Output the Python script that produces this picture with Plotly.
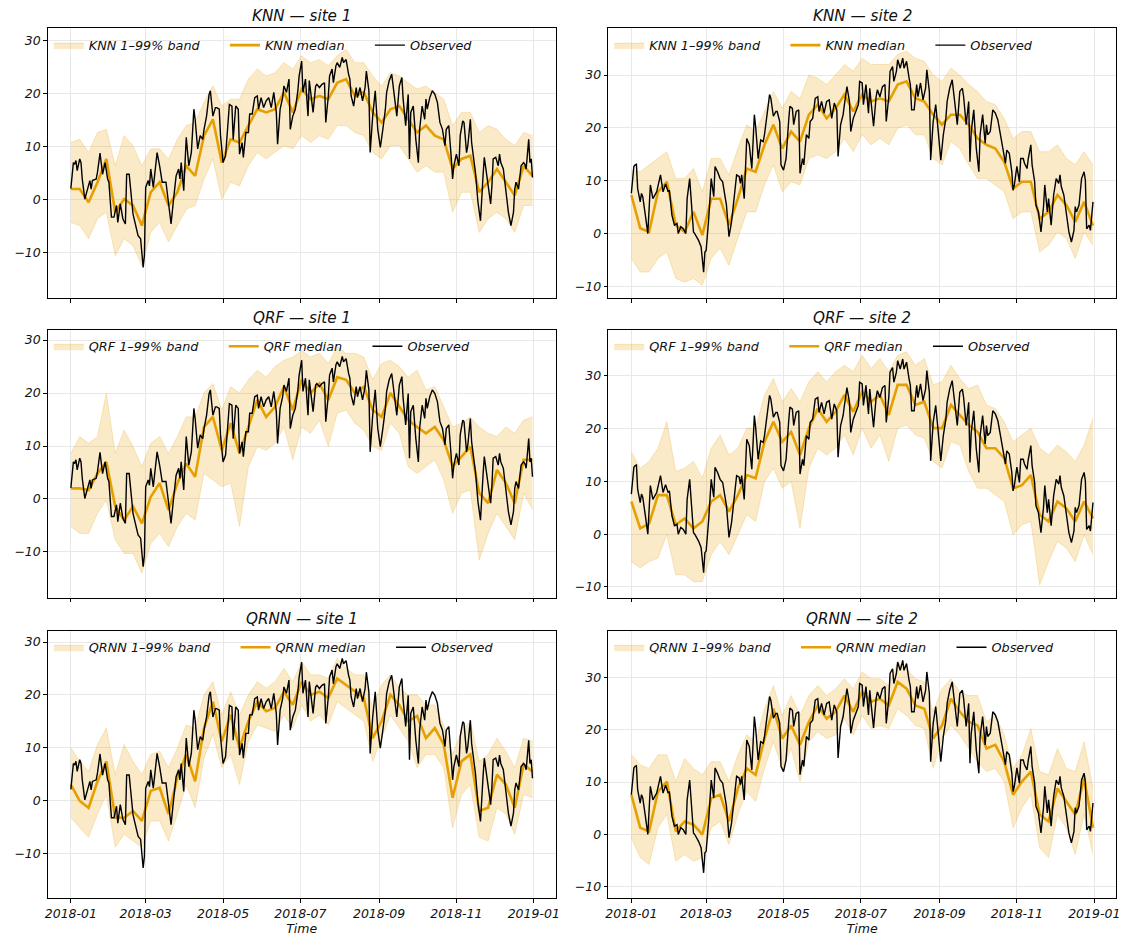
import pandas as pd
import plotly.graph_objects as go

# ---------------- data ----------------
BASE = pd.Timestamp("2018-01-01")

# day offsets (from 2018-01-01) of the observed points
obs_day = [0, 2, 3, 4, 5, 7, 8, 9, 11, 13, 15, 16, 17, 20, 21, 23, 25, 27, 29, 30,
           32, 34, 36, 37, 39, 41, 43, 44, 46, 49, 50, 53, 55, 57, 58, 59, 61, 62, 63, 65,
           66, 68, 70, 72, 75, 77, 79, 81, 83, 85, 86, 87, 89, 91, 93, 95, 97, 98, 100, 102,
           104, 105, 107, 109, 110, 112, 114,
           115, 117, 118, 120, 122, 124, 125, 127, 128, 130, 132, 133, 135, 136, 138, 140, 141, 143, 145, 147,
           148, 150, 152, 154, 156, 158, 160, 162, 163, 165, 167, 168, 170, 172, 173, 175, 177, 179, 180, 182,
           183, 185, 187, 188, 189, 191, 193, 194, 196, 198, 200, 201, 203, 204, 206, 207, 209, 210, 212, 214,
           215, 217, 219, 220, 221, 223, 225, 226, 228, 230, 232, 233, 235, 236, 238, 240, 242, 244, 246, 248,
           249, 251,
           253, 255, 257, 259, 261, 262, 264, 266, 267, 268, 270, 272, 274, 275, 277, 279, 280, 281, 283, 285,
           287, 289, 291, 293, 295, 296, 298, 300, 301, 302, 304, 306, 307, 309, 310, 312, 313, 315, 316, 318,
           319, 321, 323, 325, 326, 328, 329, 331, 332, 333, 335, 337, 338, 339, 341, 343, 345, 347, 349, 350,
           351, 353, 355, 357, 358, 359, 361, 362, 363, 364]

obs_site1 = [2.1, 7.0, 6.7, 7.4, 5.5, 7.7, 7.0, 3.9, 0.1, 2.0, 3.6, 2.0, 3.6, 3.9, 5.2, 8.8, 4.8, 7.0, 3.9, 3.3,
             -3.3, -3.3, -1.1, -4.3, -0.8, -3.6, -4.6, 4.8, 4.8, -2.7, -3.6, -6.8, -7.4, -12.8, -10.6, 2.3, 3.6, 2.6, 5.8, 2.3,
             4.5, 8.9, 6.4, 3.3, 3.3, -0.8, -4.6, 0.1, 4.5, 5.8, 3.9, 7.0, 1.7, 11.8, 6.4, 8.9, 17.1, 15.2, 9.6, 12.1,
             11.4, 13.3, 15.8, 19.9, 20.6, 15.8, 17.4,
             17.4, 17.1, 12.1, 7.0, 8.3, 14.0, 18.0, 17.7, 11.4, 17.7, 17.1, 8.6, 10.8, 8.0, 12.7, 12.7, 16.2, 16.2, 19.3, 19.6,
             17.1, 19.3, 17.4, 18.7, 19.3, 17.4, 20.3, 16.5, 10.5, 17.1, 19.3, 21.5, 20.3, 22.8, 13.3, 15.8, 17.1, 20.6, 23.4, 26.2,
             20.3, 22.8, 15.8, 22.5, 20.3, 16.5, 21.5, 21.8, 21.2, 21.8, 22.1, 14.6, 19.6, 23.4, 24.7, 22.1, 25.3, 25.9, 25.0, 26.9,
             25.9, 26.5, 23.7, 22.8, 19.6, 17.7, 21.2, 19.3, 21.2, 18.7, 21.2, 24.3, 20.6, 8.9, 15.8, 20.6, 13.3, 9.9, 13.3, 17.1,
             20.3, 22.5,
             23.7, 19.6, 15.8, 21.5, 23.1, 19.0, 14.0, 19.9, 7.7, 16.5, 17.7, 11.4, 7.0, 13.3, 17.7, 15.2, 19.0, 17.1, 19.3, 20.6,
             19.9, 18.4, 14.6, 13.3, 10.2, 13.3, 14.0, 7.7, 3.9, 6.4, 8.6, 6.4, 12.1, 14.9, 14.6, 8.9, 10.2, 15.2, 10.8, 7.0,
             5.2, -0.5, -4.0, 4.5, 8.0, 4.5, 2.6, -0.8, 2.6, 7.7, 8.0, 6.4, 8.6, 7.0, 5.8, 2.0, -2.4, -4.9, -2.4, 2.0,
             3.3, 2.0, 6.4, 7.0, 6.7, 5.8, 11.4, 7.0, 7.7, 4.2]

obs_site2 = [7.6, 12.7, 13.0, 13.1, 8.5, 6.0, 7.6, 7.0, 3.6, 0.0, 9.2, 7.9, 6.6, 7.9, 9.2, 11.1, 7.9, 9.4, 7.9, 8.2,
             3.5, 1.6, 1.9, 0.0, 1.3, 0.9, 0.0, 6.6, 10.4, 0.3, 0.0, -1.3, -2.5, -7.3, -3.5, -3.2, 2.8, 6.0, 10.4, 7.0,
             12.7, 11.7, 10.4, 9.8, 5.4, -0.6, 2.2, 6.6, 11.1, 10.8, 9.5, 11.1, 6.6, 18.0, 16.8, 12.3, 22.5, 20.3, 14.2, 17.7,
             17.4, 18.7, 22.5, 26.3, 25.6, 22.2, 23.1,
             23.1, 21.2, 13.0, 12.0, 14.2, 21.2, 24.1, 23.7, 20.6, 23.1, 23.4, 11.4, 14.2, 13.0, 18.7, 18.0, 21.2, 21.8, 25.6, 25.9,
             23.1, 25.0, 22.8, 25.0, 25.3, 21.8, 24.7, 23.4, 14.6, 20.6, 22.5, 24.4, 27.8, 25.0, 19.3, 21.8, 23.1, 24.4, 28.8, 28.5,
             24.4, 28.2, 22.8, 27.5, 25.0, 20.3, 25.9, 27.2, 25.9, 27.8, 28.2, 21.2, 25.9, 30.7, 31.6, 28.8, 30.7, 32.9, 31.3, 33.2,
             31.3, 32.6, 29.4, 28.2, 23.4, 23.4, 28.2, 25.9, 28.5, 25.3, 27.5, 31.0, 26.9, 13.9, 21.2, 24.4, 19.3, 13.9, 18.7, 21.8,
             25.0, 27.5,
             29.1, 25.0, 20.6, 26.9, 27.5, 25.9, 20.6, 25.0, 13.6, 19.3, 23.4, 16.1, 11.7, 18.7, 22.5, 17.1, 20.6, 18.7, 19.3, 23.4,
             22.8, 21.5, 18.7, 15.5, 13.3, 15.8, 15.2, 11.7, 8.2, 9.2, 12.7, 9.8, 14.2, 14.2, 13.3, 12.3, 14.2, 16.8, 13.0, 9.8,
             5.4, 4.1, 0.3, 5.1, 9.2, 4.1, 6.6, 1.6, 5.4, 7.3, 10.4, 9.5, 11.1, 8.9, 7.3, 3.5, 0.3, -1.6, 0.6, 5.1,
             4.1, 5.4, 10.4, 11.7, 10.1, 0.9, 1.6, 0.6, 3.5, 6.0]

# weekly day offsets for model medians and 1-99% bands
wk_day = [0, 7, 14, 21, 28, 35, 42, 49, 56, 63, 70, 77, 84, 91, 98, 105, 112,
          119, 126, 133, 140, 147, 154, 161, 168, 175, 182, 189, 196, 203, 210, 217, 224, 231, 238, 245,
          252, 259, 266, 273, 280, 287, 294, 301, 308, 315, 322, 329, 336, 343, 350, 357, 364]

knn1_med = [2.0, 2.0, -0.5, 3.3, 7.7, -2.4, 0.1, -1.1, -4.9, 1.4, 3.3, -1.1, 1.4, 6.4, 4.5, 12.1, 15.2,
            7.0, 11.4, 10.8, 14.0, 17.1, 16.5, 17.1, 20.3, 16.5, 20.9, 19.0, 19.6, 19.0, 22.1, 22.8, 19.6, 20.3, 16.5, 14.6,
            17.1, 17.7, 15.2, 12.7, 14.0, 12.1, 11.4, 5.8, 7.7, 8.3, 1.4, 3.3, 5.8, 3.3, 0.8, 6.4, 4.5]
knn1_hi = [10.8, 11.4, 8.9, 12.7, 13.3, 6.4, 12.1, 10.2, 6.4, 9.6, 9.6, 7.7, 11.4, 14.0, 14.6, 18.4, 21.5,
           17.7, 19.0, 19.0, 22.8, 24.7, 23.4, 24.0, 25.9, 24.7, 27.2, 25.9, 26.5, 25.3, 27.2, 28.4, 25.9, 25.9, 23.4, 21.5,
           24.0, 23.4, 22.1, 20.9, 21.5, 20.3, 19.0, 14.0, 16.5, 16.5, 12.7, 14.0, 13.3, 11.4, 10.2, 12.7, 12.1]
knn1_lo = [-4.3, -4.9, -7.4, -3.6, -2.4, -10.6, -7.4, -8.7, -12.5, -6.2, -4.3, -8.0, -4.9, -1.8, -1.1, 3.9, 7.7,
           0.1, 3.3, 2.6, 6.4, 8.9, 7.7, 8.9, 10.2, 9.6, 12.1, 10.8, 12.1, 11.4, 14.0, 14.0, 12.7, 12.1, 8.9, 7.7,
           10.2, 10.2, 7.7, 5.2, 6.4, 5.2, 5.2, -2.4, 1.4, 1.4, -6.2, -3.6, -2.4, -3.6, -6.2, -1.1, -1.1]

qrf1_med = [2.0, 2.0, 1.7, 4.8, 7.0, -1.4, -4.0, -1.4, -4.6, 0.4, 3.0, -2.1, 3.0, 6.7, 4.2, 13.6, 15.5,
            9.2, 14.3, 8.6, 13.6, 18.7, 15.5, 17.4, 21.2, 16.8, 22.5, 20.0, 21.8, 18.7, 23.0, 22.5, 20.0, 21.2, 16.8, 15.5,
            20.0, 17.4, 14.9, 13.6, 12.4, 13.6, 11.1, 6.1, 8.0, 9.9, 1.1, -0.8, 5.5, 3.0, -0.8, 7.4, 7.4]
qrf1_hi = [8.6, 11.8, 10.5, 11.8, 20.0, 8.6, 13.0, 9.9, 6.1, 10.5, 11.8, 8.6, 11.8, 15.5, 15.5, 20.0, 21.8,
           16.8, 21.2, 20.0, 22.5, 24.3, 23.0, 25.0, 26.2, 26.8, 28.0, 26.8, 27.5, 25.6, 28.7, 27.5, 27.5, 26.8, 22.5, 25.6,
           26.2, 25.0, 23.0, 24.3, 20.6, 21.2, 17.4, 13.6, 14.3, 15.5, 13.6, 12.4, 11.8, 13.6, 12.4, 14.9, 15.5]
qrf1_lo = [-5.2, -6.5, -6.5, -2.7, -0.2, -7.7, -10.3, -10.3, -14.0, -8.4, -6.5, -9.0, -5.2, -2.7, -4.0, 4.8, 3.6,
           2.3, 3.0, -5.2, 6.1, 9.9, 9.2, 10.5, 13.6, 7.4, 13.6, 12.4, 14.9, 9.9, 16.2, 16.8, 14.3, 13.0, 9.9, 9.2,
           14.3, 12.4, 6.1, 4.8, 6.1, 7.4, 3.6, -2.7, 1.1, 1.7, -11.5, -6.5, -2.7, -5.2, -7.7, 1.1, -2.0]

qrnn1_med = [3.0, -0.1, -1.4, 3.6, 7.4, -3.3, -3.3, -2.0, -3.9, 1.8, 2.4, -2.6, 4.3, 8.7, 3.6, 13.7, 18.7,
             11.2, 16.2, 9.9, 15.0, 18.7, 16.9, 17.5, 20.6, 18.1, 22.5, 20.0, 20.6, 19.4, 23.1, 21.9, 20.6, 19.4, 11.8, 15.0,
             20.0, 18.1, 15.0, 16.0, 11.8, 13.7, 10.6, 0.5, 7.4, 8.7, -2.0, -1.4, 4.9, 3.0, -1.4, 6.8, 5.5]
qrnn1_hi = [10.0, 7.4, 5.5, 10.6, 13.7, 4.9, 10.6, 7.4, 4.9, 8.7, 9.3, 6.2, 9.9, 14.3, 13.7, 20.0, 22.5,
            16.2, 20.6, 16.2, 20.0, 22.5, 21.3, 22.5, 25.0, 22.5, 26.3, 23.8, 23.8, 23.1, 26.9, 25.0, 23.8, 23.8, 17.5, 21.9,
            23.8, 21.3, 20.0, 20.0, 18.1, 18.1, 14.3, 8.7, 13.1, 15.0, 7.4, 8.7, 11.8, 9.3, 6.2, 11.8, 11.2]
qrnn1_lo = [-3.3, -5.2, -7.0, -2.6, 1.1, -8.9, -6.4, -7.7, -8.9, -3.9, -3.9, -7.7, -2.6, 3.0, -1.4, 8.0, 12.5,
            6.2, 8.7, 3.0, 11.2, 14.3, 13.7, 13.1, 16.2, 13.7, 18.1, 15.0, 16.2, 14.3, 18.7, 17.5, 16.2, 15.0, 7.4, 11.8,
            16.2, 13.7, 11.2, 6.2, 8.7, 8.7, 6.2, -5.2, 1.1, 3.0, -7.0, -7.7, -1.4, -2.6, -6.4, 1.1, 0.5]

knn2_med = [7.3, 1.0, 0.3, 7.9, 9.8, 1.6, 0.3, 4.1, -0.3, 6.6, 6.6, 1.6, 6.6, 12.3, 11.7, 16.8, 20.6,
            16.1, 19.3, 17.4, 22.5, 24.4, 21.8, 23.7, 26.3, 23.1, 26.3, 25.0, 25.6, 25.0, 28.2, 28.8, 25.6, 25.0, 22.5, 20.6,
            22.5, 22.5, 20.6, 18.0, 16.8, 16.1, 13.6, 8.5, 9.8, 9.8, 2.8, 4.1, 7.3, 5.4, 2.2, 6.0, 1.5]
knn2_hi = [12.0, 11.7, 13.0, 14.2, 15.5, 10.4, 10.4, 12.3, 7.9, 14.2, 14.2, 11.1, 16.1, 20.6, 19.3, 23.1, 26.9,
           23.7, 26.9, 25.6, 30.0, 29.4, 28.2, 30.0, 32.0, 30.7, 33.2, 32.0, 32.0, 32.0, 33.9, 34.5, 33.2, 32.6, 30.0, 28.8,
           31.3, 30.0, 28.2, 26.9, 25.0, 24.4, 21.8, 18.0, 19.3, 19.3, 15.5, 15.5, 16.8, 14.2, 13.0, 15.5, 13.0]
knn2_lo = [-4.7, -7.3, -7.3, -4.7, -3.5, -8.5, -9.2, -8.5, -9.8, -4.7, -2.8, -6.0, -0.9, 4.1, 4.1, 9.2, 13.0,
           7.9, 9.8, 9.2, 14.2, 14.9, 14.2, 15.5, 18.0, 15.5, 18.7, 16.8, 18.0, 16.8, 19.9, 20.6, 18.7, 18.7, 14.2, 13.0,
           17.4, 16.1, 13.0, 10.4, 10.4, 9.2, 7.9, 2.8, 4.1, 4.1, -3.5, -2.2, 0.3, -0.9, -4.7, 0.3, -2.2]

qrf2_med = [6.2, 1.1, 2.0, 7.4, 7.4, 1.8, 3.0, 1.1, 2.4, 6.2, 7.4, 4.3, 7.4, 11.2, 10.6, 17.5, 21.3,
            17.5, 19.4, 15.0, 20.1, 23.8, 21.3, 23.2, 26.4, 23.2, 27.0, 25.1, 26.4, 22.6, 28.3, 28.3, 24.5, 25.1, 20.1, 20.1,
            24.5, 22.6, 20.7, 19.4, 16.3, 16.3, 14.4, 8.7, 9.3, 11.2, 3.7, 2.4, 6.2, 4.9, 2.4, 6.2, 3.0]
qrf2_hi = [15.6, 12.5, 13.8, 16.3, 21.3, 11.9, 12.5, 13.8, 10.6, 16.3, 18.8, 15.0, 16.3, 20.1, 20.1, 26.4, 29.5,
           25.1, 27.6, 25.1, 28.9, 30.8, 28.9, 30.8, 32.0, 30.8, 33.9, 31.4, 33.3, 30.8, 33.9, 34.6, 32.0, 33.3, 28.3, 28.9,
           32.0, 29.5, 27.6, 28.3, 24.5, 23.8, 21.3, 17.5, 18.8, 20.1, 16.3, 15.0, 16.9, 15.6, 13.8, 16.9, 22.0]
qrf2_lo = [-5.2, -6.4, -5.2, -4.5, -0.1, -7.7, -7.7, -9.0, -9.0, -3.9, -1.4, -3.9, -0.1, 3.7, 2.4, 10.0, 12.5,
           8.7, 10.0, 1.1, 12.5, 16.3, 15.0, 16.3, 18.8, 15.0, 20.1, 16.3, 18.8, 13.8, 20.1, 20.7, 18.8, 18.2, 13.8, 12.5,
           17.5, 16.9, 11.9, 8.7, 8.7, 7.4, 6.2, -0.1, 1.8, 2.4, -9.6, -5.2, -1.4, -2.6, -5.2, -0.1, -3.9]

qrnn2_med = [7.6, 1.3, 0.6, 8.2, 10.1, 0.6, 2.5, 1.9, 0.0, 6.9, 7.6, 2.5, 8.8, 12.6, 11.4, 18.3, 24.0,
             18.3, 20.8, 17.1, 21.5, 24.6, 22.1, 23.4, 26.5, 23.4, 27.2, 25.3, 25.9, 24.6, 29.1, 27.8, 24.6, 24.0, 18.3, 20.8,
             25.9, 23.4, 21.5, 20.8, 16.4, 17.1, 13.9, 7.6, 10.1, 12.0, 3.8, 2.5, 8.8, 6.3, 3.8, 10.7, 1.3]
qrnn2_hi = [15.2, 13.3, 12.6, 15.2, 15.2, 10.1, 14.5, 12.6, 11.4, 13.9, 13.9, 10.1, 15.2, 19.0, 17.7, 24.0, 28.4,
            22.7, 26.5, 22.7, 26.5, 28.4, 26.5, 27.8, 29.7, 27.8, 31.0, 29.7, 29.7, 28.4, 32.8, 31.6, 29.7, 29.1, 23.4, 27.8,
            29.7, 27.2, 26.5, 26.5, 21.5, 22.7, 19.0, 12.6, 15.2, 20.2, 12.0, 11.4, 16.4, 12.6, 12.0, 17.7, 8.8]
qrnn2_lo = [-0.6, -4.4, -5.7, 1.3, 3.8, -5.1, -3.8, -5.1, -4.4, 1.3, 2.5, -1.9, 3.8, 8.2, 6.3, 12.6, 17.7,
            12.6, 16.4, 10.1, 17.7, 19.6, 18.3, 19.0, 22.1, 19.0, 22.7, 20.2, 20.8, 20.2, 24.0, 22.7, 20.8, 20.2, 12.6, 18.3,
            20.8, 19.0, 16.4, 13.9, 12.0, 12.6, 10.1, 1.3, 5.1, 7.6, -2.5, -4.4, 3.8, 1.3, -3.8, 3.8, -3.8]

models = ["KNN", "QRF", "QRNN"]
sites = ["site 1", "site 2"]
tick_dates = ["2018-01-01", "2018-03-01", "2018-05-01", "2018-07-01", "2018-09-01", "2018-11-01", "2019-01-01"]
tick_text = ["2018-01", "2018-03", "2018-05", "2018-07", "2018-09", "2018-11", "2019-01"]
y_ticks = [-10, 0, 10, 20, 30]

assert len(obs_day) == len(obs_site1) == len(obs_site2)
for arr in [knn1_med, knn1_hi, knn1_lo, qrf1_med, qrf1_hi, qrf1_lo, qrnn1_med, qrnn1_hi, qrnn1_lo,
            knn2_med, knn2_hi, knn2_lo, qrf2_med, qrf2_hi, qrf2_lo, qrnn2_med, qrnn2_hi, qrnn2_lo]:
    assert len(arr) == len(wk_day)

# ---------------- figure ----------------
OFF = 8                      # page body margin of the html page
W, H = 1130 - OFF, 943 - OFF
def to_dates(days):
    return [BASE + pd.Timedelta(days=d) for d in days]

obs_x = to_dates(obs_day)
wk_x = to_dates(wk_day)
observed = {0: obs_site1, 1: obs_site2}
preds = {
    (0, 0): (knn1_med, knn1_lo, knn1_hi), (0, 1): (knn2_med, knn2_lo, knn2_hi),
    (1, 0): (qrf1_med, qrf1_lo, qrf1_hi), (1, 1): (qrf2_med, qrf2_lo, qrf2_hi),
    (2, 0): (qrnn1_med, qrnn1_lo, qrnn1_hi), (2, 1): (qrnn2_med, qrnn2_lo, qrnn2_hi),
}

# pixel boxes of the axes in the 1130x943 picture
col_px = [(45, 556), (609, 1120)]
row_px = [(28.3, 298), (329.5, 597.5), (630.5, 898)]
y_ranges = {(0, 0): [-18.6, 32.4], (1, 0): [-18.6, 32.0], (2, 0): [-18.5, 32.2],
            (0, 1): [-12.2, 38.85], (1, 1): [-12.0, 38.8], (2, 1): [-12.1, 38.9]}
x_range = [BASE - pd.Timedelta(days=18.2), BASE + pd.Timedelta(days=382.2)]

ORANGE = "#E69F00"
BAND_FILL = "rgba(230,159,0,0.22)"
BAND_LINE = "rgba(230,159,0,0.28)"
NB = "\u00a0"
TICK_FS, LEG_FS, TITLE_FS = 12.5, 12.8, 15.2

fig = go.Figure()
layout = dict(width=W, height=H, margin=dict(l=0, r=0, t=0, b=0),
              paper_bgcolor="white", plot_bgcolor="white",
              font=dict(family="DejaVu Sans", style="italic", size=TICK_FS, color="#111111"),
              showlegend=True)
annotations = []

for r in range(3):
    for c in range(2):
        k = r * 2 + c + 1
        xa = "x" if k == 1 else f"x{k}"
        ya = "y" if k == 1 else f"y{k}"
        lg = "legend" if k == 1 else f"legend{k}"
        med, lo, hi = preds[(r, c)]
        m = models[r]
        fig.add_trace(go.Scatter(x=wk_x, y=lo, xaxis=xa, yaxis=ya, mode="lines",
                                 line=dict(color=BAND_LINE, width=0.8), showlegend=False,
                                 hoverinfo="skip", legend=lg))
        fig.add_trace(go.Scatter(x=wk_x, y=hi, xaxis=xa, yaxis=ya, mode="lines", fill="tonexty",
                                 fillcolor=BAND_FILL, line=dict(color=BAND_LINE, width=0.8),
                                 name=f"{m} 1–99% band" + NB * 5, legend=lg))
        fig.add_trace(go.Scatter(x=wk_x, y=med, xaxis=xa, yaxis=ya, mode="lines",
                                 line=dict(color=ORANGE, width=2.6), name=f"{m} median" + NB * 5, legend=lg))
        fig.add_trace(go.Scatter(x=obs_x, y=observed[c], xaxis=xa, yaxis=ya, mode="lines",
                                 line=dict(color="black", width=1.4), name="Observed", legend=lg))

        x0, x1 = col_px[c][0] - OFF, col_px[c][1] - OFF
        t0, t1 = row_px[r][0] - OFF, row_px[r][1] - OFF
        xdom = [x0 / W, x1 / W]
        ydom = [1 - t1 / H, 1 - t0 / H]
        axis_common = dict(showline=True, linecolor="black", linewidth=1, mirror=True,
                           ticks="outside", ticklen=3.5, tickwidth=0.8, tickcolor="black",
                           showgrid=True, gridcolor="#e8e8e8", gridwidth=0.8, zeroline=False,
                           tickfont=dict(family="DejaVu Sans", style="italic", size=TICK_FS, color="#111111"))
        xkey = "xaxis" if k == 1 else f"xaxis{k}"
        ykey = "yaxis" if k == 1 else f"yaxis{k}"
        layout[xkey] = dict(domain=xdom, anchor=ya, type="date", range=x_range,
                            tickvals=tick_dates, ticktext=tick_text,
                            showticklabels=(r == 2), **axis_common)
        if r == 2:
            layout[xkey]["title"] = dict(text="Time", standoff=4,
                                         font=dict(family="DejaVu Sans", style="italic", size=TICK_FS))
        layout[ykey] = dict(domain=ydom, anchor=xa, range=y_ranges[(r, c)], tickvals=y_ticks,
                            **axis_common)
        layout[lg] = dict(x=(x0 + 1) / W, xanchor="left", y=1 - (t0 + 2) / H, yanchor="top",
                          orientation="h", bgcolor="rgba(0,0,0,0)", borderwidth=0,
                          font=dict(family="DejaVu Sans", style="italic", size=LEG_FS, color="#111111"),
                          traceorder="normal")
        annotations.append(dict(text=f"{m} — {sites[c]}", x=(x0 + x1) / 2 / W, y=1 - t0 / H,
                                xref="paper", yref="paper", xanchor="center", yanchor="bottom",
                                yshift=1, showarrow=False,
                                font=dict(family="DejaVu Sans", style="italic", size=TITLE_FS, color="#111111")))

layout["annotations"] = annotations
fig.update_layout(**layout)
fig.write_html("out.html")
